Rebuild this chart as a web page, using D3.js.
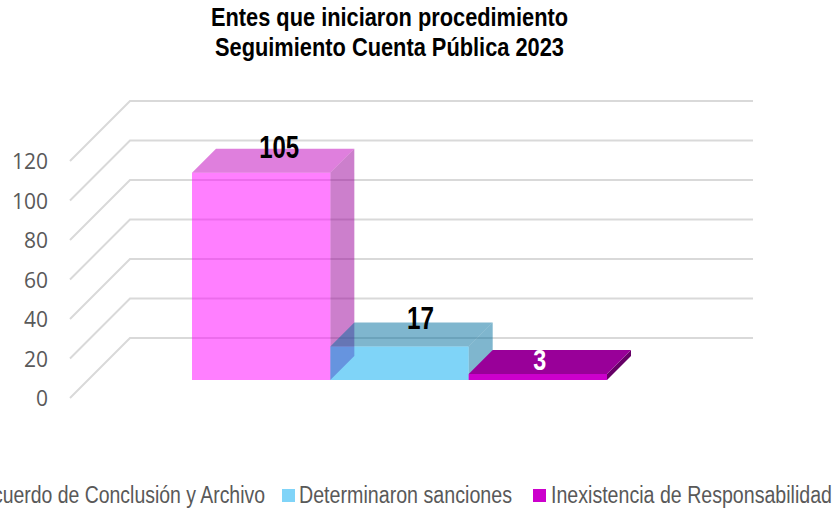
<!DOCTYPE html>
<html><head><meta charset="utf-8">
<script src="https://cdnjs.cloudflare.com/ajax/libs/d3/7.8.5/d3.min.js"></script>
<style>html,body{margin:0;background:#fff;overflow:hidden}svg{display:block}</style></head>
<body><svg id="c" width="833" height="510"></svg>
<script>
const titleLines=["Entes que iniciaron procedimiento","Seguimiento Cuenta Pública 2023"];
const categories=["Acuerdo de Conclusión y Archivo","Determinaron sanciones","Inexistencia de Responsabilidad"];
const values=[105,17,3];
const ticks=[0,20,40,60,80,100,120];
const frontColors=["#ff00ff","#00a9f1","#cc00cc"];
const topColors=["#c000bc","#006e9e","#990099"];
const sideColors=["#990099","#006e9e","#660066"];
const faceOpacity=[0.5,0.5,1];
const labelColors=["#000","#000","#fff"];

const svg=d3.select("#c");
const W=130,E=753,depth=60,barDepth=24,base=380,front=398;
const h=d3.scaleLinear().domain([0,120]).range([0,237]);
const x=d3.scaleBand().domain(categories).range([192,607]).paddingInner(0).paddingOuter(0);
const line=d3.line();

// grid
const g=svg.append("g").attr("fill","none").attr("stroke","#d9d9d9").attr("stroke-width",2);
g.selectAll("path").data(ticks).join("path")
 .attr("d",t=>line([[W-depth,front-h(t)],[W,front-depth-h(t)],[E,front-depth-h(t)]]));

// tick labels
svg.append("g").attr("font-family","'Open Sans',sans-serif").attr("font-size",21).attr("fill","#595959")
 .attr("text-anchor","end").selectAll("text").data(ticks).join("text")
 .attr("x",48).attr("y",t=>front-h(t)+8).text(d=>d);

// bars
const face=(pts,fill,op)=>svg.append("path").attr("d",line(pts)+"Z").attr("fill",fill).attr("fill-opacity",op);
categories.forEach((c,i)=>{
  const x0=x(c),x1=x0+x.bandwidth(),H=h(values[i]),y=base-H,d=barDepth,op=faceOpacity[i];
  face([[x1,y],[x1+d,y-d],[x1+d,base-d],[x1,base]],sideColors[i],op);
  face([[x0,y],[x0+d,y-d],[x1+d,y-d],[x1,y]],topColors[i],op);
  face([[x0,y],[x1,y],[x1,base],[x0,base]],frontColors[i],op);
});
const labelDx=[18,21,2],labelBase=[158,329,370],labelSize=[32,32,30],labelLen=[40,27,13];
svg.append("g").selectAll("text").data(categories).join("text")
 .attr("x",(c,i)=>x(c)+x.bandwidth()/2+labelDx[i])
 .attr("y",(c,i)=>labelBase[i])
 .attr("text-anchor","middle").attr("font-family","'Liberation Sans',sans-serif")
 .attr("font-weight","bold").attr("font-size",(c,i)=>labelSize[i])
 .attr("fill",(c,i)=>labelColors[i])
 .attr("textLength",(c,i)=>labelLen[i]).attr("lengthAdjust","spacingAndGlyphs")
 .text((c,i)=>values[i]);

// title
svg.append("g").selectAll("text").data(titleLines).join("text")
 .attr("x",389.5).attr("y",(d,i)=>[26,56][i]).attr("text-anchor","middle")
 .attr("font-family","'Liberation Sans',sans-serif").attr("font-weight","bold").attr("font-size",25)
 .attr("textLength",(d,i)=>[357,349][i]).attr("lengthAdjust","spacingAndGlyphs").text(d=>d);

// legend
const swatchX=[-33,282,533],textX=[-20,299,551],textW=[285,213,281];
const lg=svg.append("g").selectAll("g").data(categories).join("g");
lg.append("rect").attr("x",(c,i)=>swatchX[i]).attr("y",489).attr("width",13).attr("height",13)
 .attr("fill",(c,i)=>i===2?frontColors[i]:d3.interpolateRgb(frontColors[i],"#fff")(0.5));
lg.append("text").attr("x",(c,i)=>textX[i]).attr("y",503)
 .attr("font-family","'Liberation Sans',sans-serif").attr("font-size",23).attr("fill","#595959")
 .attr("textLength",(c,i)=>textW[i]).attr("lengthAdjust","spacingAndGlyphs").text(c=>c);
</script></body></html>
